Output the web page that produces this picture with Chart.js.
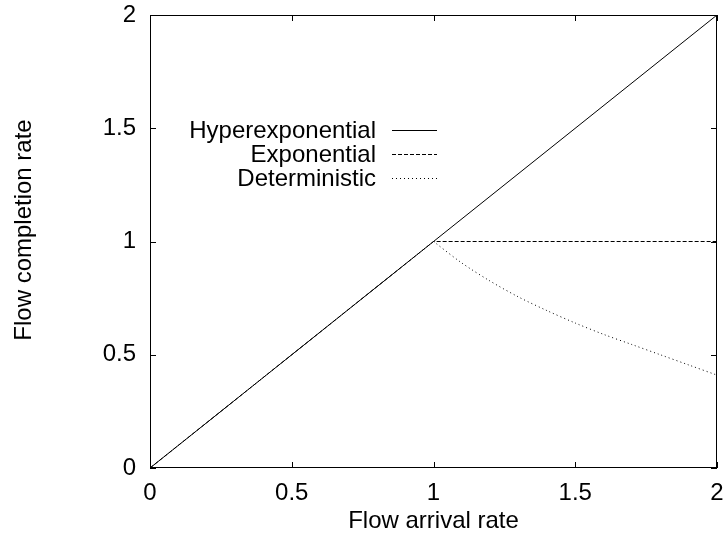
<!DOCTYPE html>
<html>
<head>
<meta charset="utf-8">
<script src="https://cdn.jsdelivr.net/npm/chart.js@4/dist/chart.umd.min.js"></script>
<style>
  html, body { margin: 0; padding: 0; background: #fff; }
  #wrap { width: 726px; height: 534px; }
</style>
</head>
<body>
<div id="wrap"><canvas id="c" width="726" height="534"></canvas></div>
<script>
// ---- data ----
const tickValues = [0, 0.5, 1, 1.5, 2];
const seriesNames = ["Hyperexponential", "Exponential", "Deterministic"];
const hyperX = [0, 1, 2];
const hyperY = [0, 1, 2];
const expX = [0, 1, 2];
const expY = [0, 1, 1];
const detX = [1, 1.1, 1.2, 1.3, 1.4, 1.5, 1.6, 1.7, 1.8, 1.9, 2];
const detY = [1, 0.905, 0.825, 0.755, 0.695, 0.64, 0.59, 0.545, 0.5, 0.455, 0.41];
const xTitle = "Flow arrival rate";
const yTitle = "Flow completion rate";

const FONT = "'Liberation Sans', Arial, sans-serif";
const FS = 24;
const dashes = [[], [4, 2], [1, 3]];

function pts(xs, ys) { return xs.map((x, i) => ({ x: x, y: ys[i] })); }

function zeroPad(s) {
  s.paddingLeft = 0; s.paddingRight = 0; s.paddingTop = 0; s.paddingBottom = 0;
}

const framePlugin = {
  id: 'frame',
  afterDatasetsDraw(chart) {
    const ctx = chart.ctx;
    const a = chart.chartArea;
    const xs = chart.scales.x, ys = chart.scales.y;
    ctx.save();
    ctx.strokeStyle = '#000';
    ctx.lineWidth = 1;
    ctx.strokeRect(Math.round(a.left) + 0.5, Math.round(a.top) + 0.5,
                   Math.round(a.right - a.left) - 1, Math.round(a.bottom - a.top) - 1);
    const tl = 6;
    ctx.beginPath();
    tickValues.forEach(v => {
      const px = Math.round(xs.getPixelForValue(v)) + 0.5;
      ctx.moveTo(px, a.bottom); ctx.lineTo(px, a.bottom - tl);
      ctx.moveTo(px, a.top); ctx.lineTo(px, a.top + tl);
      const py = Math.round(ys.getPixelForValue(v)) + 0.5;
      ctx.moveTo(a.left, py); ctx.lineTo(a.left + tl, py);
      ctx.moveTo(a.right, py); ctx.lineTo(a.right - tl, py);
    });
    ctx.stroke();

    // axis titles
    ctx.fillStyle = '#000';
    ctx.font = FS + 'px ' + FONT;
    ctx.textAlign = 'center';
    ctx.textBaseline = 'alphabetic';
    ctx.fillText(xTitle, (a.left + a.right) / 2, 528);
    ctx.save();
    ctx.translate(31, 230);
    ctx.rotate(-Math.PI / 2);
    ctx.fillText(yTitle, 0, 0);
    ctx.restore();

    // legend
    const rowsY = [130, 154, 178];
    chart.data.datasets.forEach((ds, i) => {
      const y = rowsY[i];
      ctx.textAlign = 'right';
      ctx.fillText(ds.label, 376, y + 8);
      ctx.beginPath();
      ctx.setLineDash(ds.borderDash || []);
      ctx.moveTo(392, y + 0.5);
      ctx.lineTo(437, y + 0.5);
      ctx.stroke();
      ctx.setLineDash([]);
    });
    ctx.restore();
  }
};

const datasets = [
  { label: seriesNames[0], data: pts(hyperX, hyperY), borderDash: dashes[0] },
  { label: seriesNames[1], data: pts(expX, expY), borderDash: dashes[1] },
  { label: seriesNames[2], data: pts(detX, detY), borderDash: dashes[2], tension: 0.3 }
].map(d => Object.assign({
  showLine: true, borderColor: '#000', borderWidth: 1, pointRadius: 0,
  fill: false, tension: 0
}, d));

new Chart(document.getElementById('c'), {
  type: 'scatter',
  data: { datasets: datasets },
  options: {
    responsive: false,
    animation: false,
    devicePixelRatio: 1,
    layout: { padding: { top: 15, right: 9, left: 0, bottom: 0 } },
    plugins: { legend: { display: false }, tooltip: { enabled: false } },
    scales: {
      x: {
        type: 'linear', min: 0, max: 2,
        afterBuildTicks: s => { s.ticks = tickValues.map(v => ({ value: v })); },
        afterFit: s => { s.height = 66; zeroPad(s); },
        grid: { display: false, drawTicks: false },
        border: { display: false },
        ticks: { padding: 11, color: '#000', font: { family: FONT, size: FS },
                 maxRotation: 0, autoSkip: false, callback: v => String(v) }
      },
      y: {
        type: 'linear', min: 0, max: 2,
        afterBuildTicks: s => { s.ticks = tickValues.map(v => ({ value: v })); },
        afterFit: s => { s.width = 150; zeroPad(s); },
        grid: { display: false, drawTicks: false },
        border: { display: false },
        ticks: { padding: 14, color: '#000', font: { family: FONT, size: FS },
                 autoSkip: false, callback: v => String(v) }
      }
    }
  },
  plugins: [framePlugin]
});
</script>
</body>
</html>
